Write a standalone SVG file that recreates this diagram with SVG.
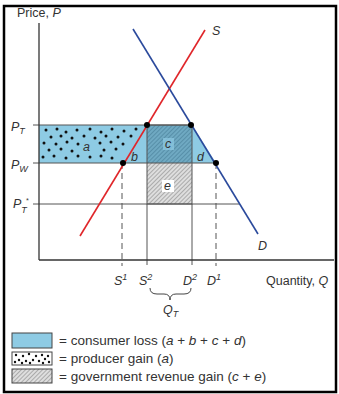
<svg xmlns="http://www.w3.org/2000/svg" width="339" height="394" viewBox="0 0 339 394">
<style>
text{font-family:"Liberation Sans",Arial,sans-serif;fill:#333;font-size:12.5px}
.v{font-style:italic}
.lg{font-size:13.5px}
.grid{stroke:#555;stroke-width:1;fill:none}
.dash{stroke:#555;stroke-width:1;stroke-dasharray:6,4;fill:none}
.ax{stroke:#333;stroke-width:1.3;fill:none}
.dot{fill:#000}
.pd{fill:#111}
</style>
<defs>
<pattern id="hatch" width="3" height="3" patternUnits="userSpaceOnUse" patternTransform="rotate(45)">
<line x1="0" y1="0" x2="0" y2="3" stroke="#777" stroke-width="1"/>
</pattern>
<pattern id="hatchB" width="3" height="3" patternUnits="userSpaceOnUse" patternTransform="rotate(45)">
<line x1="0" y1="0" x2="0" y2="3" stroke="#3f7590" stroke-width="1"/>
</pattern>
</defs>
<rect x="4" y="6" width="332" height="386" fill="#fff" stroke="#000" stroke-width="2.5"/>

<g id="areas">
<polygon points="39,125 192,125 216,163 39,163" fill="#8ecbe4"/>
<rect x="147" y="125" width="45" height="38" fill="#6fa9c2"/>
<rect x="147" y="125" width="45" height="38" fill="url(#hatchB)"/>
<rect x="147" y="163" width="45" height="41" fill="#dedede"/>
<rect x="147" y="163" width="45" height="41" fill="url(#hatch)"/>
<rect x="147" y="125" width="45" height="79" fill="none" stroke="#555" stroke-width="1"/>
</g>
<g id="producer-dots" class="pd">
<circle cx="46" cy="130" r="1.5"/><circle cx="57" cy="129" r="1.5"/><circle cx="66" cy="132" r="1.5"/><circle cx="77" cy="130" r="1.5"/><circle cx="90" cy="129" r="1.5"/><circle cx="101" cy="132" r="1.5"/><circle cx="112" cy="129" r="1.5"/><circle cx="124" cy="131" r="1.5"/><circle cx="136" cy="129" r="1.5"/>
<circle cx="51" cy="137" r="1.5"/><circle cx="61" cy="136" r="1.5"/><circle cx="72" cy="138" r="1.5"/><circle cx="84" cy="136" r="1.5"/><circle cx="95" cy="138" r="1.5"/><circle cx="106" cy="136" r="1.5"/><circle cx="118" cy="137" r="1.5"/><circle cx="131" cy="136" r="1.5"/>
<circle cx="44" cy="143" r="1.5"/><circle cx="56" cy="144" r="1.5"/><circle cx="67" cy="142" r="1.5"/><circle cx="78" cy="144" r="1.5"/><circle cx="100" cy="143" r="1.5"/><circle cx="111" cy="142" r="1.5"/><circle cx="123" cy="144" r="1.5"/>
<circle cx="49" cy="150" r="1.5"/><circle cx="61" cy="149" r="1.5"/><circle cx="72" cy="151" r="1.5"/><circle cx="104" cy="150" r="1.5"/><circle cx="116" cy="149" r="1.5"/>
<circle cx="43" cy="157" r="1.5"/><circle cx="54" cy="156" r="1.5"/><circle cx="66" cy="158" r="1.5"/><circle cx="78" cy="156" r="1.5"/><circle cx="90" cy="157" r="1.5"/><circle cx="101" cy="156" r="1.5"/><circle cx="112" cy="158" r="1.5"/>
</g>

<g id="gridlines">
<line class="grid" x1="33" y1="125" x2="192" y2="125"/>
<line class="grid" x1="33" y1="163" x2="216" y2="163"/>
<line class="grid" x1="33" y1="204" x2="240" y2="204"/>
<line class="grid" x1="147" y1="204" x2="147" y2="265"/>
<line class="grid" x1="192" y1="204" x2="192" y2="265"/>
<line class="dash" x1="122" y1="163" x2="122" y2="266"/>
<line class="dash" x1="216" y1="163" x2="216" y2="266"/>
</g>

<g id="axes">
<line class="ax" x1="39" y1="23" x2="39" y2="260"/>
<line class="ax" x1="39" y1="260" x2="334" y2="260"/>
</g>

<g id="curves">
<line x1="80" y1="236" x2="205" y2="30" stroke="#e0262a" stroke-width="1.6"/>
<line x1="133" y1="29" x2="258" y2="234" stroke="#2b4a9c" stroke-width="1.6"/>
</g>

<g id="points">
<circle class="dot" cx="147" cy="125" r="3"/>
<circle class="dot" cx="191" cy="125" r="3"/>
<circle class="dot" cx="123" cy="163" r="3"/>
<circle class="dot" cx="216" cy="163" r="3"/>
</g>

<g id="area-labels">
<text class="v" x="83" y="151" font-size="13">a</text>
<text class="v" x="131" y="161" font-size="13">b</text>
<rect x="163" y="138" width="11" height="12" fill="#8ecbe4" opacity="0.7"/>
<text class="v" x="165" y="148" font-size="13">c</text>
<text class="v" x="197" y="161" font-size="13">d</text>
<rect x="162" y="180" width="12" height="12" fill="#fff"/>
<text class="v" x="164" y="190" font-size="13">e</text>
</g>

<g id="axis-labels">
<text x="17" y="17">Price, <tspan class="v">P</tspan></text>
<text class="v" x="11" y="131" font-size="13">P<tspan font-size="9" dy="3">T</tspan></text>
<text class="v" x="11" y="169" font-size="13">P<tspan font-size="9" dy="3">W</tspan></text>
<text class="v" x="13" y="208" font-size="13">P<tspan font-size="9" dy="5">T</tspan><tspan font-size="7" dx="-1" dy="-10">*</tspan></text>
<text class="v" x="212" y="35" font-size="13">S</text>
<text class="v" x="258" y="250" font-size="13">D</text>
<text class="v" x="114" y="285" font-size="13">S<tspan font-size="9" dy="-5">1</tspan></text>
<text class="v" x="139" y="285" font-size="13">S<tspan font-size="9" dy="-5">2</tspan></text>
<text class="v" x="183" y="285" font-size="13">D<tspan font-size="9" dy="-5">2</tspan></text>
<text class="v" x="207" y="285" font-size="13">D<tspan font-size="9" dy="-5">1</tspan></text>
<text x="266" y="285" font-size="13">Quantity, <tspan class="v">Q</tspan></text>
<path d="M150,288 Q150,294 157,294 L164,294 Q170,294 170,300 Q170,294 176,294 L184,294 Q191,294 191,288" fill="none" stroke="#444" stroke-width="1"/>
<text class="v" x="163" y="314" font-size="13">Q<tspan font-size="9" dy="3">T</tspan></text>
</g>

<g id="legend">
<rect x="12" y="333" width="40" height="15" fill="#8ecbe4" stroke="#444" stroke-width="1"/>
<text class="lg" x="59" y="345">= consumer loss (<tspan class="v">a</tspan> + <tspan class="v">b</tspan> + <tspan class="v">c</tspan> + <tspan class="v">d</tspan>)</text>
<rect x="12" y="352" width="40" height="13" fill="#fff" stroke="#444" stroke-width="1"/>
<g class="pd">
<circle cx="16" cy="355" r="1.2"/><circle cx="23" cy="356" r="1.2"/><circle cx="29" cy="354" r="1.2"/><circle cx="36" cy="356" r="1.2"/><circle cx="42" cy="355" r="1.2"/><circle cx="48" cy="356" r="1.2"/>
<circle cx="19" cy="360" r="1.2"/><circle cx="26" cy="361" r="1.2"/><circle cx="33" cy="360" r="1.2"/><circle cx="39" cy="361" r="1.2"/><circle cx="45" cy="359" r="1.2"/>
<circle cx="15" cy="362" r="1.2"/><circle cx="22" cy="363" r="1.2"/><circle cx="30" cy="363" r="1.2"/><circle cx="43" cy="363" r="1.2"/><circle cx="49" cy="362" r="1.2"/>
</g>
<text class="lg" x="59" y="363">= producer gain (<tspan class="v">a</tspan>)</text>
<rect x="12" y="369" width="40" height="14" fill="#dedede"/>
<rect x="12" y="369" width="40" height="14" fill="url(#hatch)" stroke="#444" stroke-width="1"/>
<text class="lg" x="59" y="381">= government revenue gain (<tspan class="v">c</tspan> + <tspan class="v">e</tspan>)</text>
</g>
</svg>
